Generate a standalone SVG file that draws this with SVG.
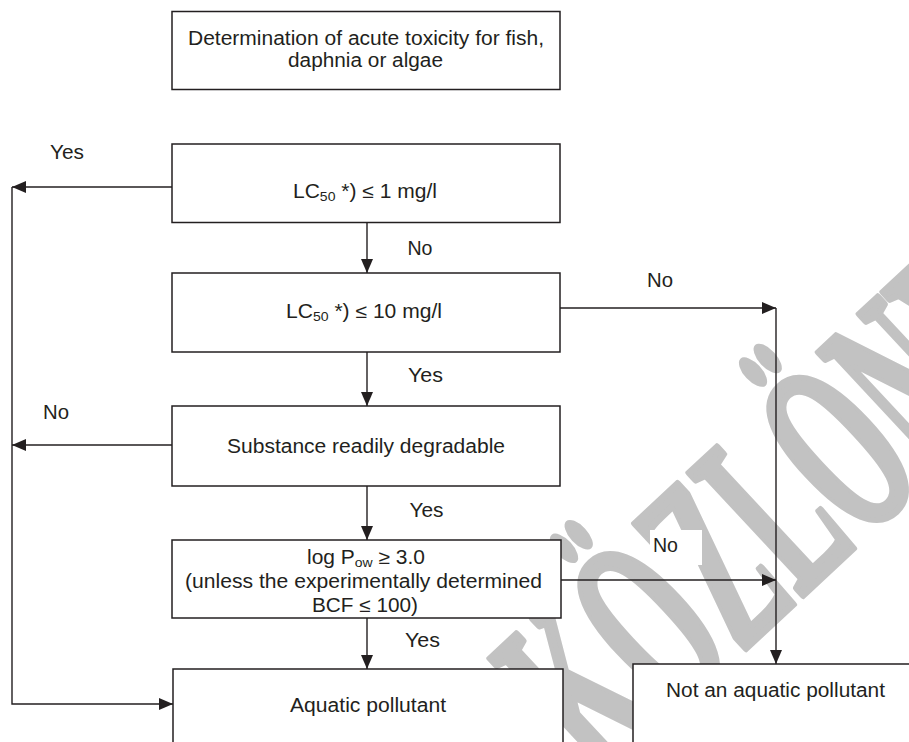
<svg xmlns="http://www.w3.org/2000/svg" width="909" height="742" viewBox="0 0 909 742">
  <style>
    .box { fill: #ffffff; stroke: #231f20; stroke-width: 1.5; }
    .wire { fill: none; stroke: #231f20; stroke-width: 1.4; }
    .lbl { font-family: "Liberation Sans", Arial, sans-serif; font-size: 19.5px; fill: #231f20; text-anchor: middle; }
    .sub { font-size: 13px; }
    .wm { font-family: "Liberation Serif", "Times New Roman", serif; font-weight: bold; fill: #c2c2c2; stroke: #c2c2c2; stroke-width: 7; stroke-linejoin: round; }
  </style>
  <defs>
    <marker id="arrow" markerUnits="userSpaceOnUse" markerWidth="14" markerHeight="12" refX="14" refY="6" orient="auto">
      <path d="M0,0 L14,6 L0,12 Z" fill="#231f20"/>
    </marker>
  </defs>

  <rect width="909" height="742" fill="#ffffff"/>

  <!-- background watermark, behind everything else -->
  <g id="watermark">
    <text class="wm" x="0" y="0" font-size="255" text-anchor="middle" transform="translate(830,570) rotate(-43) scale(0.48,1)">KÖZLÖNY</text>
  </g>

  <!-- connectors -->
  <g id="connectors">
    <path class="wire" d="M172,187 H12" marker-end="url(#arrow)"/>
    <path class="wire" d="M12,187 V704 H173" marker-end="url(#arrow)"/>
    <path class="wire" d="M367,222.5 V273" marker-end="url(#arrow)"/>
    <path class="wire" d="M560,308 H776" marker-end="url(#arrow)"/>
    <path class="wire" d="M776,308 V664" marker-end="url(#arrow)"/>
    <path class="wire" d="M367,352 V406" marker-end="url(#arrow)"/>
    <path class="wire" d="M172,445 H12" marker-end="url(#arrow)"/>
    <path class="wire" d="M367,486 V540" marker-end="url(#arrow)"/>
    <path class="wire" d="M561,580 H776" marker-end="url(#arrow)"/>
    <path class="wire" d="M367,612 V669" marker-end="url(#arrow)"/>

    <text class="lbl" x="67" y="159" textLength="34" lengthAdjust="spacingAndGlyphs">Yes</text>
    <text class="lbl" x="420" y="255" textLength="25" lengthAdjust="spacingAndGlyphs">No</text>
    <text class="lbl" x="660" y="287" textLength="26" lengthAdjust="spacingAndGlyphs">No</text>
    <text class="lbl" x="425.5" y="382" textLength="35" lengthAdjust="spacingAndGlyphs">Yes</text>
    <text class="lbl" x="56" y="419" textLength="26" lengthAdjust="spacingAndGlyphs">No</text>
    <text class="lbl" x="426.5" y="517" textLength="34" lengthAdjust="spacingAndGlyphs">Yes</text>
    <rect x="650" y="530" width="52" height="35" fill="#ffffff"/>
    <text class="lbl" x="665.5" y="552" textLength="25" lengthAdjust="spacingAndGlyphs">No</text>
    <text class="lbl" x="422.5" y="647" textLength="35" lengthAdjust="spacingAndGlyphs">Yes</text>
  </g>

  <g id="node-acute-toxicity">
    <rect class="box" x="172" y="11.5" width="388" height="78"/>
    <text class="lbl" x="366" y="45" textLength="356" lengthAdjust="spacingAndGlyphs">Determination of acute toxicity for fish,</text>
    <text class="lbl" x="365.5" y="67" textLength="155" lengthAdjust="spacingAndGlyphs">daphnia or algae</text>
  </g>

  <g id="node-lc50-1">
    <rect class="box" x="172" y="144" width="388" height="78.5"/>
    <text class="lbl" x="365" y="198" textLength="144" lengthAdjust="spacingAndGlyphs">LC<tspan class="sub" dy="3">50</tspan><tspan dy="-3"> *) ≤ 1 mg/l</tspan></text>
  </g>

  <g id="node-lc50-10">
    <rect class="box" x="172" y="273" width="388" height="79"/>
    <text class="lbl" x="364" y="318" textLength="156" lengthAdjust="spacingAndGlyphs">LC<tspan class="sub" dy="3">50</tspan><tspan dy="-3"> *) ≤ 10 mg/l</tspan></text>
  </g>

  <g id="node-degradable">
    <rect class="box" x="172" y="406" width="388" height="80"/>
    <text class="lbl" x="366" y="453" textLength="278" lengthAdjust="spacingAndGlyphs">Substance readily degradable</text>
  </g>

  <g id="node-log-pow">
    <rect class="box" x="172" y="540" width="389" height="78"/>
    <text class="lbl" x="366" y="564" textLength="118" lengthAdjust="spacingAndGlyphs">log P<tspan class="sub" dy="3">ow</tspan><tspan dy="-3"> ≥ 3.0</tspan></text>
    <text class="lbl" x="363.5" y="588" textLength="357" lengthAdjust="spacingAndGlyphs">(unless the experimentally determined</text>
    <text class="lbl" x="365" y="612" textLength="106" lengthAdjust="spacingAndGlyphs">BCF ≤ 100)</text>
  </g>

  <g id="node-aquatic-pollutant">
    <rect class="box" x="173" y="669" width="390" height="100"/>
    <text class="lbl" x="368" y="712" textLength="156" lengthAdjust="spacingAndGlyphs">Aquatic pollutant</text>
  </g>

  <g id="node-not-aquatic-pollutant">
    <rect class="box" x="633" y="664" width="300" height="100"/>
    <text class="lbl" x="775.5" y="697" textLength="219" lengthAdjust="spacingAndGlyphs">Not an aquatic pollutant</text>
  </g>
</svg>
